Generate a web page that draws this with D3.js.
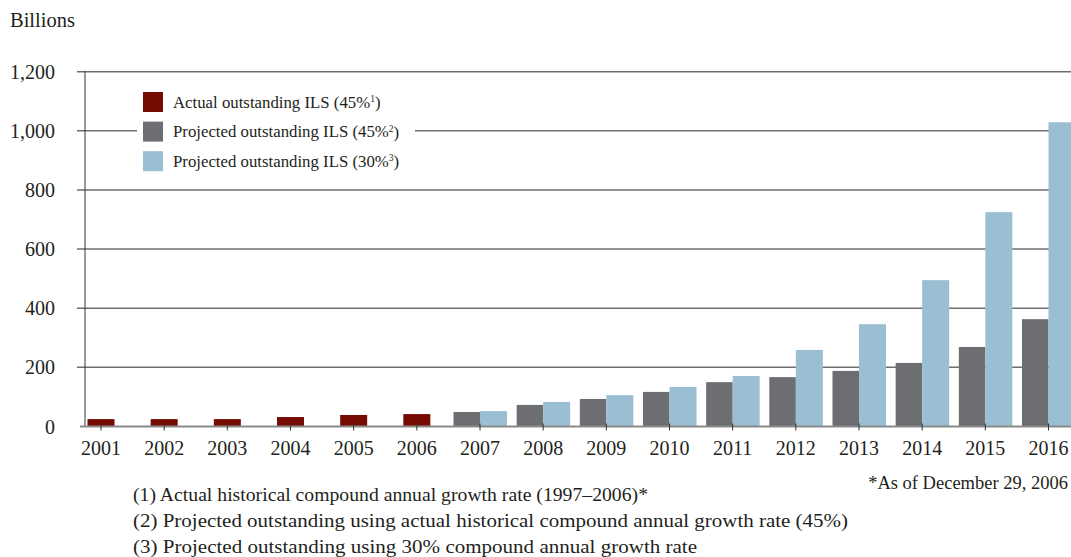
<!DOCTYPE html>
<html><head><meta charset="utf-8">
<script src="https://cdn.jsdelivr.net/npm/d3@7"></script>
<style>body{margin:0;background:#fff}svg{display:block}text{font-family:"Liberation Serif","DejaVu Serif",serif;fill:#231f20}</style>
</head><body><svg id="c" width="1071" height="557"></svg>
<script>
const years = ["2001","2002","2003","2004","2005","2006","2007","2008","2009","2010","2011","2012","2013","2014","2015","2016"];
const actual = [25,25,25,32,39,42,null,null,null,null,null,null,null,null,null,null];
const proj45 = [null,null,null,null,null,null,49,73,93,117,150,167,188,215,269,363];
const proj30 = [null,null,null,null,null,null,52,83,106,134,171,259,346,495,725,1029];
const yTicks = [0,200,400,600,800,1000,1200];
const legendLabels = ["Actual outstanding ILS (45%", "Projected outstanding ILS (45%", "Projected outstanding ILS (30%"];
const legendSup = ["1","2","3"];
const notes = ["(1) Actual historical compound annual growth rate (1997–2006)*",
  "(2) Projected outstanding using actual historical compound annual growth rate (45%)",
  "(3) Projected outstanding using 30% compound annual growth rate"];
const noteWidths = [515, 715, 564];
const colors = ["#760b02","#6d6e72","#9bbfd2"];

const svg = d3.select("#c");
const x = d3.scalePoint().domain(years).range([101,1048.5]);
const y = d3.scaleLinear().domain([0,1200]).range([426.5,71.7]);
const bw = 26.5;

// gridlines
svg.append("g").selectAll("line").data(yTicks.filter(d=>d>0)).join("line")
  .attr("x1",77).attr("x2",1071).attr("y1",d=>y(d)).attr("y2",d=>y(d))
  .attr("stroke","#6e6e6e").attr("stroke-width",1.5);
// y labels
svg.append("g").selectAll("text").data(yTicks).join("text")
  .attr("x",55).attr("y",d=>y(d)).attr("dy","0.35em").attr("text-anchor","end")
  .attr("font-size",20).text(d=>d3.format(",")(d));
svg.append("text").attr("x",10).attr("y",20).attr("dy","0.35em").attr("font-size",20.5).text("Billions");

// legend box
svg.append("rect").attr("x",137).attr("y",84).attr("width",278).attr("height",96).attr("fill","#fff");

// bars
const g = svg.append("g");
years.forEach((yr,i)=>{
  if(actual[i]!=null) g.append("rect").attr("x",x(yr)-13.5).attr("width",27).attr("y",y(actual[i])).attr("height",y(0)-y(actual[i])).attr("fill",colors[0]);
  if(proj45[i]!=null) g.append("rect").attr("x",x(yr)-bw).attr("width",bw).attr("y",y(proj45[i])).attr("height",y(0)-y(proj45[i])).attr("fill",colors[1]);
  if(proj30[i]!=null) g.append("rect").attr("x",x(yr)).attr("width",bw+0.5).attr("y",y(proj30[i])).attr("height",y(0)-y(proj30[i])).attr("fill",colors[2]);
});

// axes
svg.append("line").attr("x1",85).attr("x2",85).attr("y1",71).attr("y2",427).attr("stroke","#333").attr("stroke-width",1);
svg.append("line").attr("x1",80).attr("x2",1071).attr("y1",y(0)).attr("y2",y(0)).attr("stroke","#8a8a8a").attr("stroke-width",2);
svg.append("g").selectAll("line").data(years).join("line")
  .attr("x1",d=>x(d)).attr("x2",d=>x(d)).attr("y1",y(0)-3).attr("y2",y(0)+4).attr("stroke","#333").attr("stroke-width",1);
svg.append("g").selectAll("text").data(years).join("text")
  .attr("x",d=>x(d)).attr("y",448).attr("dy","0.35em").attr("text-anchor","middle").attr("font-size",20).text(d=>d);

// legend
const lg = svg.append("g");
legendLabels.forEach((l,i)=>{
  const cy = 102 + i*29.6;
  lg.append("rect").attr("x",143).attr("y",cy-10).attr("width",20).attr("height",20).attr("fill",colors[i]);
  const t = lg.append("text").attr("x",173).attr("y",cy).attr("dy","0.35em").attr("font-size",16.8);
  t.append("tspan").text(l);
  t.append("tspan").attr("font-size",9.5).attr("dy","-0.6em").text(legendSup[i]);
  t.append("tspan").attr("dy","0.35em").text(")");
});

// notes
svg.append("text").attr("x",1068).attr("y",483).attr("dy","0.35em").attr("text-anchor","end").attr("font-size",18.5).text("*As of December 29, 2006");
svg.append("g").selectAll("text").data(notes).join("text")
  .attr("x",133).attr("y",(d,i)=>494+i*26).attr("dy","0.35em").attr("font-size",19.5)
  .attr("textLength",(d,i)=>noteWidths[i]).attr("lengthAdjust","spacingAndGlyphs").text(d=>d);
</script></body></html>
